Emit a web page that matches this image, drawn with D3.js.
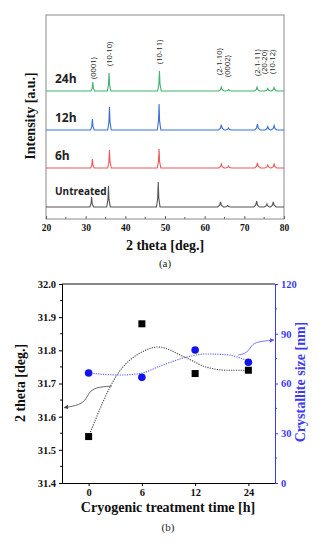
<!DOCTYPE html>
<html>
<head>
<meta charset="utf-8">
<script src="https://cdn.jsdelivr.net/npm/d3@7"></script>
<style>
    body { margin: 0; background: #fff; }
    svg { display: block; }
    .serif { font-family: 'Liberation Serif', 'Times New Roman', serif; font-weight: bold; }
    .sans { font-family: 'Open Sans', 'Noto Sans', sans-serif; }
</style>
</head>
<body>
<script>
'use strict';

// ---- (a) XRD patterns ----
var samples = ['Untreated', '6h', '12h', '24h'];
var sampleColors = ['#555555', '#e85a5c', '#3a70d6', '#3fb26e'];
var baselines = [12, 51, 89, 128];
var peaksUntreated = [31.5, 35.75, 48.3, 64.0, 65.8, 73.1, 75.7, 77.3];
var heightsUntreated = [10, 21, 25, 5, 1.5, 6, 3, 5];
var peaks6h = [31.7, 36.0, 48.5, 64.2, 66.0, 73.3, 75.9, 77.5];
var heights6h = [9, 18, 19, 4, 2, 5, 3, 4];
var peaks12h = [31.7, 36.0, 48.5, 64.2, 66.0, 73.3, 75.9, 77.5];
var heights12h = [11, 23, 26, 5, 2, 6, 3.5, 4.5];
var peaks24h = [31.8, 35.9, 48.6, 64.2, 66.0, 73.2, 75.9, 77.5];
var heights24h = [9, 18, 20, 4, 1.5, 4, 2.5, 3.5];
var hklLabels = ['(0001)', '(10-10)', '(10-11)', '(2-1-10)', '(0002)', '(2-1-11)', '(20-20)', '(10-12)'];
var hklPos = [31.9, 36.1, 48.5, 63.75, 65.65, 73.2, 75.1, 77.0];
var hklLevel = [140, 153, 155, 144, 142, 143, 145, 145];
var xTicksA = [20, 30, 40, 50, 60, 70, 80];

// ---- (b) peak shift / crystallite size ----
var hours = ['0', '6', '12', '24'];
var twoTheta = [31.54, 31.88, 31.73, 31.74];
var crystSize = [66.3, 63.7, 80.2, 72.8];
var thetaTrend = [[0, 31.54], [0.55, 31.73], [1, 31.795], [1.3, 31.81], [1.8, 31.78], [2.2, 31.75], [2.6, 31.74], [3, 31.74]];
var sizeTrend = [[0, 66.3], [0.6, 65.1], [1, 66.3], [1.35, 70.6], [1.78, 75.4], [2.2, 77.8], [2.6, 77.3], [3, 73.5]];
var thetaArrow = [[0.43, 31.692], [0.12, 31.689], [-0.006, 31.67], [-0.036, 31.655], [-0.16, 31.635], [-0.46, 31.627]];
var sizeArrow = [[2.81, 77.2], [2.98, 78.2], [3.06, 83.2], [3.16, 85.2], [3.48, 86.2]];
var leftTicks = [31.4, 31.5, 31.6, 31.7, 31.8, 31.9, 32.0];
var rightTicks = [0, 30, 60, 90, 120];

var peakSets = [peaksUntreated, peaks6h, peaks12h, peaks24h];
var heightSets = [heightsUntreated, heights6h, heights12h, heights24h];

var svg = d3.select('body').append('svg')
    .attr('width', 323)
    .attr('height', 546);

var defs = svg.append('defs');
function addArrow(id, color) {
    defs.append('marker')
        .attr('id', id)
        .attr('viewBox', '0 0 10 10')
        .attr('refX', 9)
        .attr('refY', 5)
        .attr('markerWidth', 5)
        .attr('markerHeight', 5)
        .attr('orient', 'auto')
        .append('path')
        .attr('d', 'M0,0L10,5L0,10z')
        .attr('fill', color);
}
addArrow('arrBlack', '#444');
addArrow('arrBlue', '#5a5af0');

// ========== (a) ==========
var xA = d3.scaleLinear().domain([20, 80]).range([46, 284]);
var yA = d3.scaleLinear().domain([0, 204]).range([219, 15]);
var gA = svg.append('g');

gA.append('rect')
    .attr('x', xA(20)).attr('y', yA(204))
    .attr('width', xA(80) - xA(20)).attr('height', yA(0) - yA(204))
    .attr('fill', 'none').attr('stroke', '#8a8a8a').attr('stroke-width', 1);

// spectrum built from peak list: baseline with a sharp spike at each peak
function spectrum(pos, hts, base) {
    var pts = [[20, base]];
    pos.forEach(function(p, i) {
        var w = hts[i] > 8 ? 0.45 : 0.7;
        pts.push([p - w, base]);
        pts.push([p - w * 0.3, base + hts[i] * 0.35]);
        pts.push([p, base + hts[i]]);
        pts.push([p + w * 0.3, base + hts[i] * 0.35]);
        pts.push([p + w, base]);
    });
    pts.push([80, base]);
    return pts;
}
var lineA = d3.line()
    .x(function(d) { return xA(d[0]); })
    .y(function(d) { return yA(d[1]); });

samples.forEach(function(s, i) {
    gA.append('path')
        .datum(spectrum(peakSets[i], heightSets[i], baselines[i]))
        .attr('d', lineA)
        .attr('fill', 'none')
        .attr('stroke', sampleColors[i])
        .attr('stroke-width', 1.1);
    gA.append('text')
        .attr('class', 'sans')
        .attr('x', 55)
        .attr('y', yA(baselines[i]) - (s === 'Untreated' ? 12 : 8))
        .attr('font-size', s === 'Untreated' ? 10 : 12)
        .attr('font-weight', 'bold')
        .attr('fill', '#222')
        .text(s);
});

hklLabels.forEach(function(lab, i) {
    gA.append('text')
        .attr('class', 'sans')
        .attr('transform', 'translate(' + (xA(hklPos[i]) + 2.6) + ',' + yA(hklLevel[i]) + ') rotate(-90)')
        .attr('font-size', 7.6)
        .attr('fill', '#222')
        .text(lab);
});

var axA = d3.axisBottom(xA).tickValues(xTicksA).tickSizeInner(-3).tickSizeOuter(0).tickFormat(d3.format('d'));
var axAg = gA.append('g').attr('transform', 'translate(0,' + yA(0) + ')').call(axA);
axAg.select('.domain').remove();
axAg.selectAll('line').attr('stroke', '#666');
axAg.selectAll('text').attr('class', 'serif').attr('font-size', 9.5).attr('fill', '#111').attr('dy', '0.95em');
gA.selectAll('.minorA').data([25, 35, 45, 55, 65, 75]).enter().append('line')
    .attr('x1', function(d) { return xA(d); }).attr('x2', function(d) { return xA(d); })
    .attr('y1', yA(0)).attr('y2', yA(0) - 2)
    .attr('stroke', '#666');

gA.append('text').attr('class', 'serif')
    .attr('x', 165).attr('y', 250)
    .attr('text-anchor', 'middle').attr('font-size', 14).attr('fill', '#111')
    .text('2 theta [deg.]');
gA.append('text').attr('class', 'serif')
    .attr('transform', 'translate(35,116) rotate(-90)')
    .attr('text-anchor', 'middle').attr('font-size', 14).attr('fill', '#111')
    .text('Intensity [a.u.]');
gA.append('text')
    .attr('x', 165).attr('y', 267)
    .attr('text-anchor', 'middle')
    .attr('font-family', "'Liberation Serif', serif").attr('font-size', 11).attr('fill', '#222')
    .text('(a)');

// ========== (b) ==========
var xB = d3.scaleLinear().domain([-0.5, 3.5]).range([62, 275]);
var yL = d3.scaleLinear().domain([31.4, 32.0]).range([483, 284]);
var yR = d3.scaleLinear().domain([0, 120]).range([483, 284]);
var blue = '#3b3bf5';
var gB = svg.append('g');

gB.append('line')
    .attr('x1', xB(-0.5)).attr('x2', xB(3.5)).attr('y1', yL(32)).attr('y2', yL(32))
    .attr('stroke', '#111');

var axL = d3.axisLeft(yL).tickValues(leftTicks).tickSize(3).tickFormat(d3.format('.1f'));
var axLg = gB.append('g').attr('transform', 'translate(' + xB(-0.5) + ',0)').call(axL);
axLg.selectAll('text').attr('class', 'serif').attr('font-size', 10.5).attr('fill', '#111');
gB.selectAll('.minorL').data([31.45, 31.55, 31.65, 31.75, 31.85, 31.95]).enter().append('line')
    .attr('x1', xB(-0.5)).attr('x2', xB(-0.5) - 2)
    .attr('y1', function(d) { return yL(d); }).attr('y2', function(d) { return yL(d); })
    .attr('stroke', '#111');

var axBot = d3.axisBottom(xB).tickValues([0, 1, 2, 3]).tickSize(3).tickSizeOuter(0)
    .tickFormat(function(d) { return hours[d]; });
var axBotg = gB.append('g').attr('transform', 'translate(0,' + yL(31.4) + ')').call(axBot);
axBotg.selectAll('text').attr('class', 'serif').attr('font-size', 10.5).attr('fill', '#111');

var axR = d3.axisRight(yR).tickValues(rightTicks).tickSize(3);
var axRg = gB.append('g').attr('transform', 'translate(' + xB(3.5) + ',0)').call(axR);
axRg.selectAll('path, line').attr('stroke', blue);
axRg.selectAll('text').attr('class', 'serif').attr('font-size', 10.5).attr('fill', blue);
gB.selectAll('.minorR').data([15, 45, 75, 105]).enter().append('line')
    .attr('x1', xB(3.5)).attr('x2', xB(3.5) + 2)
    .attr('y1', function(d) { return yR(d); }).attr('y2', function(d) { return yR(d); })
    .attr('stroke', blue);

var lineL = d3.line().curve(d3.curveMonotoneX)
    .x(function(d) { return xB(d[0]); })
    .y(function(d) { return yL(d[1]); });
var lineR = d3.line().curve(d3.curveMonotoneX)
    .x(function(d) { return xB(d[0]); })
    .y(function(d) { return yR(d[1]); });
var lineLb = d3.line().curve(d3.curveBasis)
    .x(function(d) { return xB(d[0]); })
    .y(function(d) { return yL(d[1]); });
var lineRb = d3.line().curve(d3.curveBasis)
    .x(function(d) { return xB(d[0]); })
    .y(function(d) { return yR(d[1]); });

gB.append('path').datum(thetaTrend).attr('d', lineL)
    .attr('fill', 'none').attr('stroke', '#444').attr('stroke-width', 1.1).attr('stroke-dasharray', '1.2,1.2');
gB.append('path').datum(sizeTrend).attr('d', lineR)
    .attr('fill', 'none').attr('stroke', '#5a5af0').attr('stroke-width', 1.1).attr('stroke-dasharray', '1.2,1.2');

gB.append('path').datum(thetaArrow).attr('d', lineLb)
    .attr('fill', 'none').attr('stroke', '#555').attr('stroke-width', 0.9)
    .attr('marker-end', 'url(#arrBlack)');
gB.append('path').datum(sizeArrow).attr('d', lineRb)
    .attr('fill', 'none').attr('stroke', '#6a6af0').attr('stroke-width', 0.9)
    .attr('marker-end', 'url(#arrBlue)');

gB.selectAll('.sq').data(twoTheta).enter().append('rect')
    .attr('x', function(d, i) { return xB(i) - 3.5; })
    .attr('y', function(d) { return yL(d) - 3.5; })
    .attr('width', 7).attr('height', 7)
    .attr('fill', '#000');
gB.selectAll('.dot').data(crystSize).enter().append('circle')
    .attr('cx', function(d, i) { return xB(i); })
    .attr('cy', function(d) { return yR(d); })
    .attr('r', 3.8)
    .attr('fill', '#1212ee');

gB.append('text').attr('class', 'serif')
    .attr('x', 168).attr('y', 512)
    .attr('text-anchor', 'middle').attr('font-size', 14).attr('fill', '#111')
    .text('Cryogenic treatment time [h]');
gB.append('text').attr('class', 'serif')
    .attr('transform', 'translate(25,383) rotate(-90)')
    .attr('text-anchor', 'middle').attr('font-size', 14).attr('fill', '#111')
    .text('2 theta [deg.]');
gB.append('text').attr('class', 'serif')
    .attr('transform', 'translate(305,382) rotate(-90)')
    .attr('text-anchor', 'middle').attr('font-size', 14).attr('fill', blue)
    .text('Crystallite size [nm]');
gB.append('text')
    .attr('x', 168).attr('y', 531)
    .attr('text-anchor', 'middle')
    .attr('font-family', "'Liberation Serif', serif").attr('font-size', 11).attr('fill', '#222')
    .text('(b)');
</script>
</body>
</html>
